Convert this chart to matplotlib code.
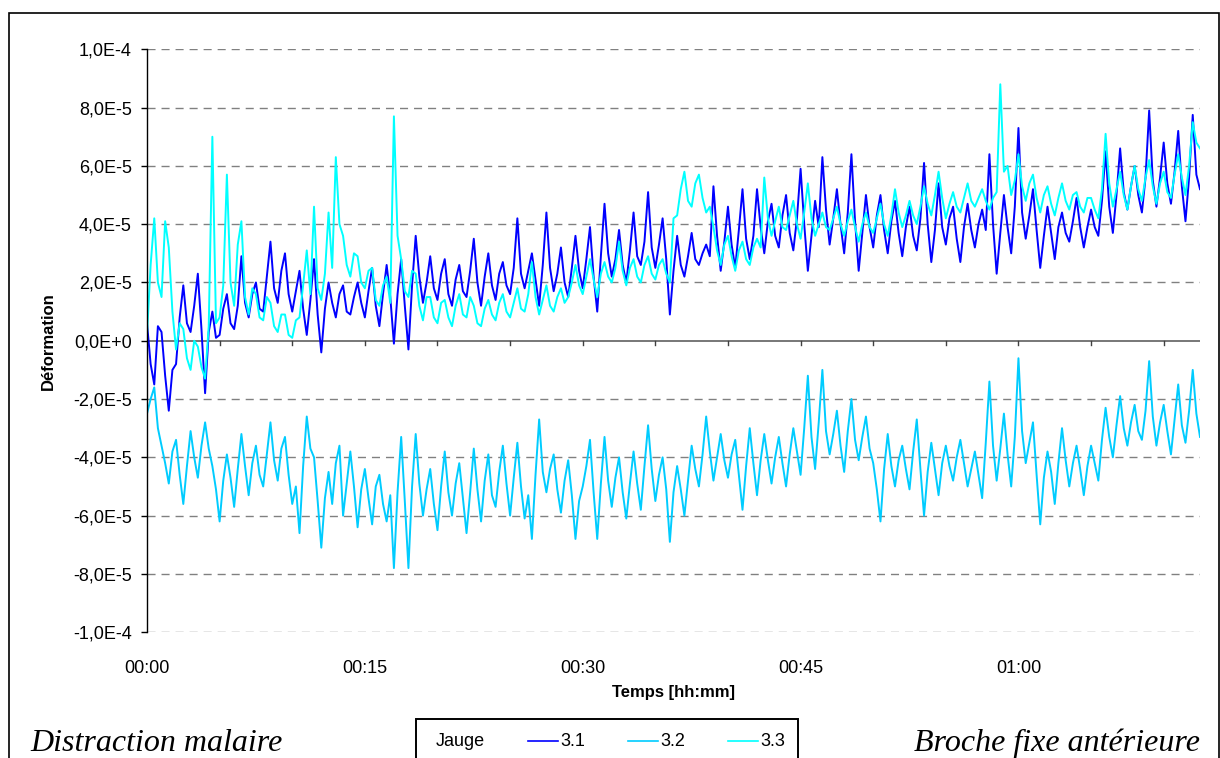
import numpy as np
import matplotlib
matplotlib.use('Agg')
import matplotlib.pyplot as plt
from matplotlib.lines import Line2D
from matplotlib.patches import Rectangle

# temps en minutes (un point toutes les 15 s)
temps = np.arange(0, 72.51, 0.25)

# déformations relevées, en 1E-5
jauge_31 = [0.6, -0.8, -1.5, 0.5, 0.3, -1.2, -2.4, -1.0, -0.8, 0.8,
            1.9, 0.6, 0.3, 1.2, 2.3, 0.4, -1.8, 0.3, 1.0, 0.1,
            0.2, 1.1, 1.6, 0.6, 0.4, 1.2, 2.9, 1.3, 0.8, 1.6,
            2.0, 1.1, 1.0, 2.2, 3.4, 1.8, 1.3, 2.4, 3.0, 1.6,
            1.0, 1.7, 2.4, 1.1, 0.2, 1.4, 2.8, 0.9, -0.4, 1.1,
            2.0, 1.3, 0.8, 1.6, 1.9, 1.0, 0.9, 1.5, 2.0, 1.3,
            0.8, 1.7, 2.5, 1.2, 0.5, 1.6, 2.6, 1.5, -0.1, 1.6,
            2.8, 1.2, -0.3, 1.9, 3.6, 2.2, 1.3, 2.0, 2.9, 1.8,
            1.4, 2.3, 2.8, 1.6, 1.2, 2.1, 2.6, 1.7, 1.5, 2.4,
            3.5, 2.0, 1.2, 2.2, 3.0, 1.9, 1.4, 2.3, 2.7, 1.9,
            1.6, 2.5, 4.2, 2.3, 1.8, 2.4, 3.0, 2.1, 1.2, 2.6,
            4.4, 2.5, 1.7, 2.3, 3.2, 2.0, 1.5, 2.5, 3.6, 2.4,
            1.8, 2.8, 3.9, 2.2, 1.0, 2.9, 4.7, 3.0, 2.2, 2.8,
            3.8, 2.6, 2.0, 3.1, 4.4, 2.9, 2.6, 3.4, 5.1, 3.2,
            2.5, 3.3, 4.2, 2.8, 0.9, 2.4, 3.6, 2.6, 2.2, 2.9,
            3.7, 2.8, 2.6, 3.0, 3.3, 2.9, 5.3, 3.6, 2.4, 3.4,
            4.6, 3.3, 2.5, 3.8, 5.2, 3.5, 2.8, 3.6, 5.2, 3.9,
            3.0, 4.1, 4.7, 3.6, 3.2, 4.3, 5.0, 3.7, 3.1, 4.2,
            5.9, 4.0, 2.4, 3.6, 4.8, 3.9, 6.3, 4.5, 3.3, 4.2,
            5.2, 4.0, 3.0, 4.4, 6.4, 4.1, 2.4, 3.7, 5.0, 3.9,
            3.2, 4.3, 5.0, 3.8, 3.0, 4.1, 4.8, 3.7, 2.9, 3.9,
            4.6, 3.6, 3.1, 4.2, 6.1, 4.0, 2.7, 3.8, 5.4, 3.9,
            3.3, 4.2, 4.6, 3.5, 2.7, 3.9, 4.7, 3.8, 3.2, 4.0,
            4.5, 3.8, 6.4, 4.0, 2.3, 3.7, 5.0, 3.9, 3.0, 4.6,
            7.3, 4.4, 3.5, 4.3, 5.2, 3.8, 2.5, 3.6, 4.6, 3.7,
            2.8, 3.9, 4.4, 3.7, 3.4, 4.1, 4.9, 3.9, 3.2, 3.9,
            4.5, 3.9, 3.6, 4.8, 6.5, 4.6, 3.7, 5.0, 6.6, 5.1,
            4.5, 5.3, 6.0, 5.0, 4.4, 5.6, 7.9, 5.5, 4.6, 5.6,
            6.8, 5.4, 4.7, 5.8, 7.2, 5.3, 4.1, 5.6, 7.75, 5.7,
            5.2]

jauge_32 = [-2.5, -2.0, -1.6, -3.0, -3.6, -4.2, -4.9, -3.8, -3.4, -4.6,
            -5.6, -4.3, -3.1, -4.0, -4.7, -3.6, -2.8, -3.7, -4.3, -5.1,
            -6.2, -4.8, -3.9, -4.7, -5.7, -4.4, -3.2, -4.3, -5.3, -4.2,
            -3.6, -4.6, -5.0, -3.9, -2.8, -4.1, -4.8, -3.7, -3.3, -4.6,
            -5.6, -5.0, -6.6, -4.3, -2.6, -3.7, -4.0, -5.5, -7.1, -5.4,
            -4.5, -5.6, -4.2, -3.6, -6.0, -4.9, -3.8, -5.0, -6.4, -5.1,
            -4.4, -5.4, -6.3, -5.0, -4.6, -5.6, -6.2, -5.3, -7.8, -5.2,
            -3.3, -5.5, -7.8, -5.0, -3.2, -4.9, -6.0, -5.1, -4.4, -5.6,
            -6.5, -5.0, -3.8, -5.2, -6.0, -4.9, -4.2, -5.4, -6.6, -5.2,
            -3.7, -5.1, -6.2, -4.8, -3.9, -5.3, -5.7, -4.5, -3.6, -4.9,
            -6.0, -4.7, -3.5, -5.0, -6.1, -5.3, -6.8, -4.6, -2.7, -4.5,
            -5.2, -4.4, -3.9, -5.1, -5.9, -4.8, -4.1, -5.3, -6.8, -5.5,
            -5.0, -4.3, -3.4, -5.2, -6.8, -4.9, -3.3, -4.8, -5.7, -4.7,
            -4.0, -5.2, -6.1, -4.9, -3.8, -4.9, -5.8, -4.3, -2.9, -4.4,
            -5.5, -4.6, -4.0, -5.1, -6.9, -5.2, -4.3, -5.1, -6.0, -4.8,
            -3.6, -4.4, -5.0, -3.9, -2.6, -3.8, -4.8, -4.0, -3.2, -4.1,
            -4.7, -3.9, -3.4, -4.6, -5.8, -4.3, -3.0, -4.2, -5.3, -4.1,
            -3.2, -4.1, -4.9, -4.0, -3.3, -4.2, -5.0, -3.9, -3.0, -3.8,
            -4.6, -3.0, -1.2, -3.3, -4.4, -2.8, -1.0, -3.1, -3.9, -3.2,
            -2.4, -3.6, -4.5, -3.1, -2.0, -3.4, -4.1, -3.3, -2.6, -3.7,
            -4.2, -5.1, -6.2, -4.4, -3.2, -4.3, -5.0, -4.1, -3.6, -4.4,
            -5.1, -3.8, -2.7, -4.4, -6.0, -4.5, -3.5, -4.4, -5.3, -4.2,
            -3.6, -4.3, -4.8, -4.0, -3.4, -4.2, -5.0, -4.4, -3.8, -4.6,
            -5.4, -3.5, -1.4, -3.6, -4.8, -3.7, -2.5, -3.9, -5.0, -3.3,
            -0.6, -3.1, -4.2, -3.5, -2.8, -4.6, -6.3, -4.7, -3.8, -4.5,
            -5.6, -4.2, -3.0, -4.1, -5.0, -4.2, -3.6, -4.4, -5.3, -4.3,
            -3.6, -4.2, -4.8, -3.4, -2.3, -3.3, -4.0, -2.9, -1.9, -3.0,
            -3.6, -2.8, -2.2, -3.1, -3.4, -2.4, -0.7, -2.6, -3.6, -2.8,
            -2.2, -3.1, -3.9, -2.7, -1.5, -2.9, -3.5, -2.4, -1.0, -2.5,
            -3.3]

jauge_33 = [0.2, 2.6, 4.2, 2.0, 1.5, 4.1, 3.2, 1.0, -0.3, 0.6,
            0.4, -0.6, -1.0, 0.0, -0.2, -0.9, -1.3, 0.5, 7.0, 0.6,
            0.8, 1.9, 5.7, 2.0, 1.2, 3.3, 4.1, 1.5, 0.9, 1.8,
            1.6, 0.8, 0.7, 1.5, 1.3, 0.5, 0.3, 0.9, 0.9, 0.2,
            0.1, 0.7, 0.8, 1.9, 3.1, 1.6, 4.6, 1.8, 1.4, 2.3,
            4.4, 2.5, 6.3, 4.0, 3.6, 2.6, 2.2, 3.0, 2.9, 2.0,
            1.8, 2.4, 2.5, 1.4, 1.2, 1.9, 2.2, 1.3, 7.7, 3.6,
            2.8, 1.7, 1.5, 2.4, 2.3, 1.2, 0.7, 1.5, 1.5, 0.8,
            0.6, 1.3, 1.4, 0.8, 0.5, 1.2, 1.6, 0.9, 0.8, 1.5,
            1.2, 0.6, 0.5, 1.1, 1.4, 0.9, 0.7, 1.3, 1.6, 1.0,
            0.8, 1.3, 1.8, 1.1, 1.0, 1.6, 2.7, 1.5, 0.9, 1.4,
            1.9, 1.2, 1.0, 1.5, 1.8, 1.3, 1.5, 2.0, 2.6, 1.9,
            1.6, 2.2, 2.8, 2.1, 1.5, 2.3, 2.7, 2.2, 2.0, 2.5,
            3.4, 2.4, 1.9, 2.5, 2.8, 2.2, 2.0, 2.6, 2.9, 2.3,
            2.1, 2.6, 2.8, 2.3, 2.0, 4.2, 4.3, 5.2, 5.8, 4.8,
            4.6, 5.4, 5.7, 4.9, 4.4, 4.6, 3.9, 3.1, 2.6, 3.3,
            3.6, 2.9, 2.4, 3.1, 3.4, 2.8, 2.6, 3.2, 3.5, 3.2,
            5.6, 4.2, 3.6, 4.1, 4.6, 3.9, 3.8, 4.3, 4.8, 4.0,
            3.5, 4.4, 5.4, 4.2, 3.6, 4.0, 4.4, 3.9, 3.8, 4.2,
            4.6, 4.0, 3.6, 4.1, 4.5, 3.9, 3.4, 4.0, 4.4, 3.9,
            3.7, 4.2, 4.7, 4.0, 3.6, 4.3, 5.2, 4.4, 3.9, 4.3,
            4.8, 4.3, 4.0, 4.6, 5.3, 4.7, 4.3, 5.0, 5.8, 4.9,
            4.2, 4.7, 5.1, 4.6, 4.4, 4.9, 5.4, 4.8, 4.6, 4.9,
            5.2, 4.8, 4.5, 4.9, 5.1, 8.8, 5.8, 6.0, 5.0, 5.5,
            6.4, 5.3, 4.8, 5.4, 5.7, 4.9, 4.4, 5.0, 5.3, 4.7,
            4.3, 4.9, 5.4, 4.8, 4.5, 5.0, 5.1, 4.6, 4.4, 4.9,
            4.9, 4.5, 4.2, 5.2, 7.1, 5.4, 4.6, 5.2, 5.8, 5.0,
            4.5, 5.3, 6.0, 5.2, 4.8, 5.6, 6.2, 5.3, 4.7, 5.4,
            5.8, 5.1, 4.9, 5.7, 6.4, 5.6, 5.0, 6.0, 7.5, 6.8,
            6.6]

noms = ['3.1', '3.2', '3.3']
couleurs = ['#0000FF', '#00CCFF', '#00FFFF']

y_ticks = [-1e-4, -8e-5, -6e-5, -4e-5, -2e-5, 0, 2e-5, 4e-5, 6e-5, 8e-5, 1e-4]
y_labels = ['-1,0E-4', '-8,0E-5', '-6,0E-5', '-4,0E-5', '-2,0E-5', '0,0E+0',
            '2,0E-5', '4,0E-5', '6,0E-5', '8,0E-5', '1,0E-4']
x_ticks = [0, 15, 30, 45, 60]
x_labels = ['00:00', '00:15', '00:30', '00:45', '01:00']

plt.rcParams['font.family'] = ['Liberation Sans', 'DejaVu Sans']
plt.rcParams['lines.scale_dashes'] = False

W, H = 1220, 758
fig = plt.figure(figsize=(W / 100, H / 100), dpi=100)


def px(x, y):
    # pixels (depuis le haut gauche) -> coordonnées figure
    return x / W, 1 - y / H


ax = fig.add_axes([147 / W, 1 - 632.2 / H, (1200 - 147) / W, (632.2 - 49.3) / H])

series = [jauge_31, jauge_32, jauge_33]
for vals, nom, c in zip(series, noms, couleurs):
    ax.plot(temps, np.array(vals) * 1e-5, color=c, lw=1.4, label=nom)

ax.set_xlim(0, 72.5)
ax.set_ylim(-1e-4, 1e-4)

# grille pointillée
for yv in y_ticks:
    if yv != 0:
        ax.axhline(yv, color='#808080', lw=1, ls=(0, (5.8, 4.3)), zorder=0)
# axe des x à zéro
ax.axhline(0, color='#606060', lw=1.2, zorder=0.5)
for t in range(5, 71, 5):
    ax.plot([t, t], [0, -0.15e-5], color='#404040', lw=1, zorder=0.5)

for s in ['top', 'right', 'bottom']:
    ax.spines[s].set_visible(False)
ax.spines['left'].set_color('black')
ax.spines['left'].set_linewidth(1)

ax.set_yticks(y_ticks)
ax.set_yticklabels(y_labels, fontsize=13)
ax.tick_params(axis='y', direction='out', length=4, width=1, pad=7)
ax.set_xticks(x_ticks)
ax.set_xticklabels(x_labels, fontsize=13)
ax.tick_params(axis='x', length=0, pad=20)

ax.set_ylabel('Déformation', fontsize=12, fontweight='bold', labelpad=12)
fig.text(*px(673, 693), 'Temps [hh:mm]', fontsize=12, fontweight='bold', ha='center', va='center')

# cadre extérieur
fig.add_artist(Rectangle(px(8.5, 770), (1218.5 - 8.5) / W, (770 - 12.5) / H,
                         transform=fig.transFigure, fill=False, ec='black', lw=1.2))

# textes en bas
serif = ['Liberation Serif', 'DejaVu Serif']
fig.text(*px(30, 751), 'Distraction malaire', family=serif, style='italic', fontsize=23, va='baseline')
fig.text(*px(1200, 751), 'Broche fixe antérieure', family=serif, style='italic', fontsize=23,
         va='baseline', ha='right')

# légende
fig.add_artist(Rectangle(px(415.7, 770), (797.6 - 415.7) / W, (770 - 719) / H,
                         transform=fig.transFigure, fill=False, ec='black', lw=1.4))
fig.text(*px(436, 741), 'Jauge', fontsize=13, va='center')
for x0, nom, c in zip([528, 628, 728], noms, couleurs):
    fig.add_artist(Line2D([x0 / W, (x0 + 30) / W], [1 - 741 / H] * 2, color=c, lw=1.2,
                          transform=fig.transFigure))
    fig.text(*px(x0 + 32, 741), nom, fontsize=13, va='center')

fig.savefig('out.png', dpi=100)
